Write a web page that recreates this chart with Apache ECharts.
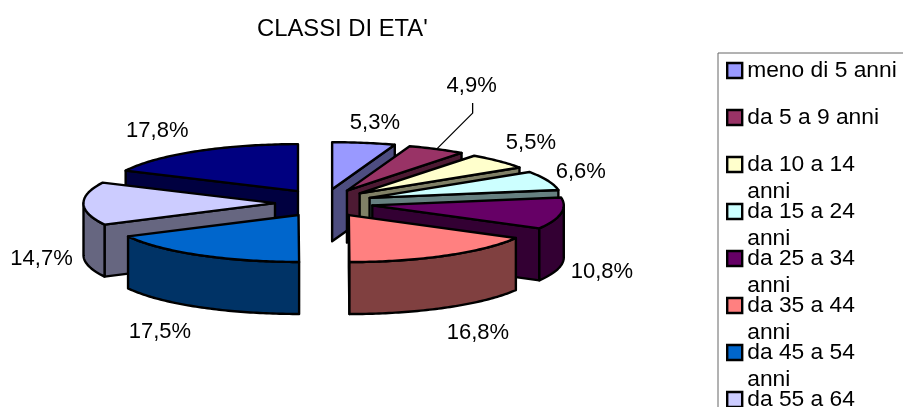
<!DOCTYPE html>
<html><head><meta charset="utf-8">
<style>html,body{margin:0;padding:0;background:#fff}#c{width:903px;height:407px}</style>
<script src="https://cdn.jsdelivr.net/npm/echarts@6/dist/echarts.min.js"></script>
</head><body><div id="c"></div>
<script>
const titleText = "CLASSI DI ETA'";
const categories = ['meno di 5 anni','da 5 a 9 anni','da 10 a 14 anni','da 15 a 24 anni','da 25 a 34 anni','da 35 a 44 anni','da 45 a 54 anni','da 55 a 64 anni','65 anni e oltre'];
const values = [5.3,4.9,5.5,6.6,10.8,16.8,17.5,14.7,17.8];
const topColors = ['#9999FF','#993366','#FFFFCC','#CCFFFF','#660066','#FF8080','#0066CC','#CCCCFF','#000080'];
const sideColors = ['#4D4D80','#4D1A33','#808066','#668080','#330033','#804040','#003366','#666680','#000040'];
// label offsets from each slice's outer arc midpoint
const labelOffsets = [[11,-20],[35,-63],[32,-18],[33,-9],[41,59],[32,77],[-39,77],[-42,55],[-39,-20]];

const FONT = '"Liberation Sans", Arial, sans-serif';
const cx = 324, cy = 203, rx = 191.5, ry = 47, ex = 49, ey = 14, depth = 52;
const total = values.reduce((a,b)=>a+b,0);
const D = Math.PI/180;
let acc = 0;
const slices = values.map(v=>{
  const a0 = acc/total*360; acc += v; const a1 = acc/total*360; const m = (a0+a1)/2;
  const ax = cx + ex*Math.sin(m*D), ay = cy - ey*Math.cos(m*D);
  return {a0,a1,m,ax,ay};
});
const pt = (s,a,dz)=>[s.ax+rx*Math.sin(a*D), s.ay-ry*Math.cos(a*D)+(dz||0)];
function arc(s,a0,a1,dz){const n=Math.max(2,Math.ceil((a1-a0)));const p=[];for(let i=0;i<=n;i++)p.push(pt(s,a0+(a1-a0)*i/n,dz));return p;}
const LW = 2.4;
function poly(points,fill){return {type:'polygon',shape:{points},style:{fill,stroke:'#000',lineWidth:LW,lineJoin:'round'},silent:true};}

function drawSlice(i){
  const s = slices[i], side = sideColors[i], top = topColors[i], kids = [];
  const apex=[s.ax,s.ay], apexB=[s.ax,s.ay+depth];
  if (Math.sin(s.a0*D) < -1e-6) { const p=pt(s,s.a0); kids.push(poly([apex,p,[p[0],p[1]+depth],apexB],side)); }
  if (Math.sin(s.a1*D) > 1e-6) { const p=pt(s,s.a1); kids.push(poly([apex,p,[p[0],p[1]+depth],apexB],side)); }
  const w0=Math.max(s.a0,90), w1=Math.min(s.a1,270);
  if (w1>w0) kids.push(poly(arc(s,w0,w1,0).concat(arc(s,w0,w1,depth).reverse()),side));
  kids.push(poly([apex].concat(arc(s,s.a0,s.a1,0)),top));
  return {type:'group',children:kids};
}
const farness = slices.map(s=>Math.cos(s.m*D));
const order = values.map((_,i)=>i).sort((a,b)=>farness[b]-farness[a]);
const pieSeries = categories.map((name,i)=>({
  type:'custom', name, coordinateSystem:'none', silent:true, animation:false,
  z: 2 + order.indexOf(i)/10,
  itemStyle:{color:topColors[i]},
  data:[values[i]],
  renderItem:()=>drawSlice(i)
}));
const labelSeries = {
  type:'custom', name:'etichette', coordinateSystem:'none', silent:true, animation:false, z:5,
  data: values,
  renderItem:(params)=>{
    const i=params.dataIndex, s=slices[i];
    const p=[s.ax+rx*Math.sin(s.m*D), s.ay-ry*Math.cos(s.m*D)];
    const kids=[{type:'text',x:p[0]+labelOffsets[i][0],y:p[1]+labelOffsets[i][1],silent:true,
      style:{text:values[i].toFixed(1).replace('.',',')+'%',font:'22px '+FONT,fill:'#000',textAlign:'center',textVerticalAlign:'middle'}}];
    if(i===1){kids.push({type:'polyline',silent:true,shape:{points:[p,[p[0]+36,p[1]-36],[p[0]+36,p[1]-46]]},style:{fill:'none',stroke:'#000',lineWidth:1.3}});}
    return {type:'group',children:kids};
  }
};
function wrapName(n){
  const t=n.split(' ');
  return n.length>14 ? t.slice(0,t.length-1).join(' ')+'\n'+t[t.length-1] : n+'\n ';
}
const chart = echarts.init(document.getElementById('c'),null,{renderer:'canvas'});
chart.setOption({
  animation:false,
  title:{text:titleText,left:257,top:17,padding:0,textStyle:{fontFamily:FONT,fontSize:23.8,fontWeight:'normal',color:'#000'}},
  legend:{
    orient:'vertical',left:718,top:53,height:1000,padding:[4,40,0,8],
    selectedMode:false,data:categories,
    itemWidth:15,itemHeight:42,itemGap:-7,
    icon:'path://M0 0H15V15H0Z M0 42L0 42',
    itemStyle:{borderColor:'#000',borderWidth:2.4},
    backgroundColor:'#fff',borderColor:'#666',borderWidth:1,
    formatter:wrapName,
    textStyle:{fontFamily:FONT,fontSize:22.8,color:'#000',lineHeight:27}
  },
  series:pieSeries.concat([labelSeries])
});
</script></body></html>
